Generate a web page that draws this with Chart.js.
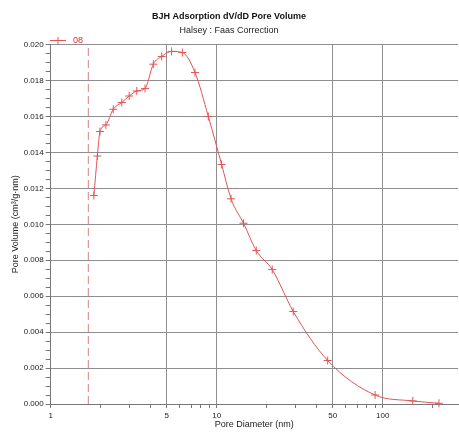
<!DOCTYPE html>
<html>
<head>
<meta charset="utf-8">
<script src="https://cdn.jsdelivr.net/npm/chart.js@4"></script>
<style>
    html, body { margin: 0; padding: 0; background: #fff; }
</style>
</head>
<body>
<canvas id="poreChart" width="459" height="432"></canvas>
<script>
// pore diameter (nm) and dV/dD pore volume (cm3/g.nm)
const diameters = [1.82, 1.91, 1.98, 2.15, 2.38, 2.68, 2.97, 3.30, 3.70, 4.15, 4.66, 5.35, 6.21, 7.40, 8.90, 10.7, 12.2, 14.5, 17.3, 21.6, 28.9, 46.6, 89.9, 151.6, 218];
const poreVolumes = [0.0116, 0.0138, 0.01516, 0.01553, 0.0164, 0.01678, 0.01714, 0.01742, 0.01756, 0.01891, 0.01934, 0.01962, 0.01956, 0.01845, 0.0160, 0.01333, 0.01142, 0.01006, 0.00854, 0.00748, 0.00515, 0.00242, 0.0005, 0.00017, 0.00004];
const seriesName = "08";

const cutoffDiameter = 1.685;
const xLabelTicks = [1, 5, 10, 50, 100];
const xMinorTicks = [2, 3, 4, 6, 7, 8, 9, 20, 30, 40, 60, 70, 80, 90, 200];
const yLabelTicks = [0, 0.002, 0.004, 0.006, 0.008, 0.010, 0.012, 0.014, 0.016, 0.018, 0.020];

const FONT = "'Liberation Sans', Arial, Helvetica, sans-serif";
const RED = "#e05555";
const GRID = "#8e8e8e";

// draws the little "+— 08" key above the plot
const keyPlugin = {
    id: "key",
    afterDraw(chart) {
        const ctx = chart.ctx;
        const y = 40.5;
        ctx.save();
        ctx.strokeStyle = RED;
        ctx.lineWidth = 1;
        ctx.beginPath();
        ctx.moveTo(50, y); ctx.lineTo(66, y);
        ctx.moveTo(58, y - 3.5); ctx.lineTo(58, y + 3.5);
        ctx.stroke();
        ctx.fillStyle = "#e02a2a";
        ctx.font = "9px " + FONT;
        ctx.textBaseline = "middle";
        ctx.fillText(chart.data.datasets[0].label, 73, y + 0.5);
        ctx.restore();
    }
};

const isMajorX = (v) => xLabelTicks.includes(v) && v !== 1;
const isMajorY = (v) => yLabelTicks.some((t) => Math.abs(t - v) < 1e-9);

new Chart(document.getElementById("poreChart"), {
    type: "line",
    data: {
        datasets: [
            {
                label: seriesName,
                data: diameters.map((d, i) => ({ x: d, y: poreVolumes[i] })),
                borderColor: RED,
                borderWidth: 1,
                cubicInterpolationMode: "monotone",
                pointStyle: "cross",
                pointRadius: 4,
                pointBorderColor: RED,
                pointBorderWidth: 1,
                fill: false,
                clip: 6,
            },
            {
                label: "cutoff",
                data: [{ x: cutoffDiameter, y: 0 }, { x: cutoffDiameter, y: 0.02 }],
                borderColor: "#d48585",
                borderWidth: 1,
                borderDash: [8, 4],
                pointRadius: 0,
                fill: false,
            },
        ],
    },
    options: {
        responsive: false,
        animation: false,
        devicePixelRatio: 1,
        layout: { autoPadding: false, padding: { left: 0, right: 1, top: 0, bottom: 2 } },
        plugins: {
            legend: { display: false },
            tooltip: { enabled: false },
            title: {
                display: true,
                text: "BJH Adsorption dV/dD Pore Volume",
                color: "#111",
                font: { family: FONT, size: 9, weight: "bold" },
                padding: { top: 11, bottom: 2 },
            },
            subtitle: {
                display: true,
                text: "Halsey : Faas Correction",
                color: "#222",
                font: { family: FONT, size: 9 },
                padding: { top: 1, bottom: 9 },
            },
        },
        scales: {
            x: {
                type: "logarithmic",
                min: 1,
                max: 284,
                afterBuildTicks: (s) => {
                    s.ticks = xLabelTicks.concat(xMinorTicks).sort((a, b) => a - b).map((v) => ({ value: v }));
                },
                afterFit: (s) => {
                    s.height = 26;
                    s.paddingLeft = 0;
                    s.paddingRight = 0;
                },
                ticks: {
                    autoSkip: false,
                    maxRotation: 0,
                    padding: 3,
                    color: "#222",
                    font: { family: FONT, size: 8 },
                    callback: (v) => (xLabelTicks.includes(v) ? String(v) : ""),
                },
                grid: {
                    color: (c) => (c.tick && isMajorX(c.tick.value) ? GRID : "rgba(0,0,0,0)"),
                    tickColor: "#777",
                    tickLength: 4,
                },
                border: { color: "#777" },
                title: {
                    display: true,
                    text: "Pore Diameter (nm)",
                    color: "#222",
                    font: { family: FONT, size: 9 },
                    padding: 0,
                },
            },
            y: {
                min: 0,
                max: 0.02,
                afterBuildTicks: (s) => {
                    const t = [];
                    for (let i = 0; i <= 40; i++) t.push({ value: i * 0.0005 });
                    s.ticks = t;
                },
                afterFit: (s) => { s.width = 50.7; },
                ticks: {
                    autoSkip: false,
                    padding: 2,
                    color: "#222",
                    font: { family: FONT, size: 8 },
                    callback: (v) => (isMajorY(v) ? v.toFixed(3) : ""),
                },
                grid: {
                    color: (c) => (c.tick && isMajorY(c.tick.value) ? GRID : "rgba(0,0,0,0)"),
                    tickColor: "#777",
                    tickLength: 5,
                },
                border: { color: "#777" },
                title: {
                    display: true,
                    text: "Pore Volume (cm³/g·nm)",
                    color: "#222",
                    font: { family: FONT, size: 9 },
                    padding: { top: 10, bottom: 0 },
                },
            },
        },
    },
    plugins: [keyPlugin],
});
</script>
</body>
</html>
